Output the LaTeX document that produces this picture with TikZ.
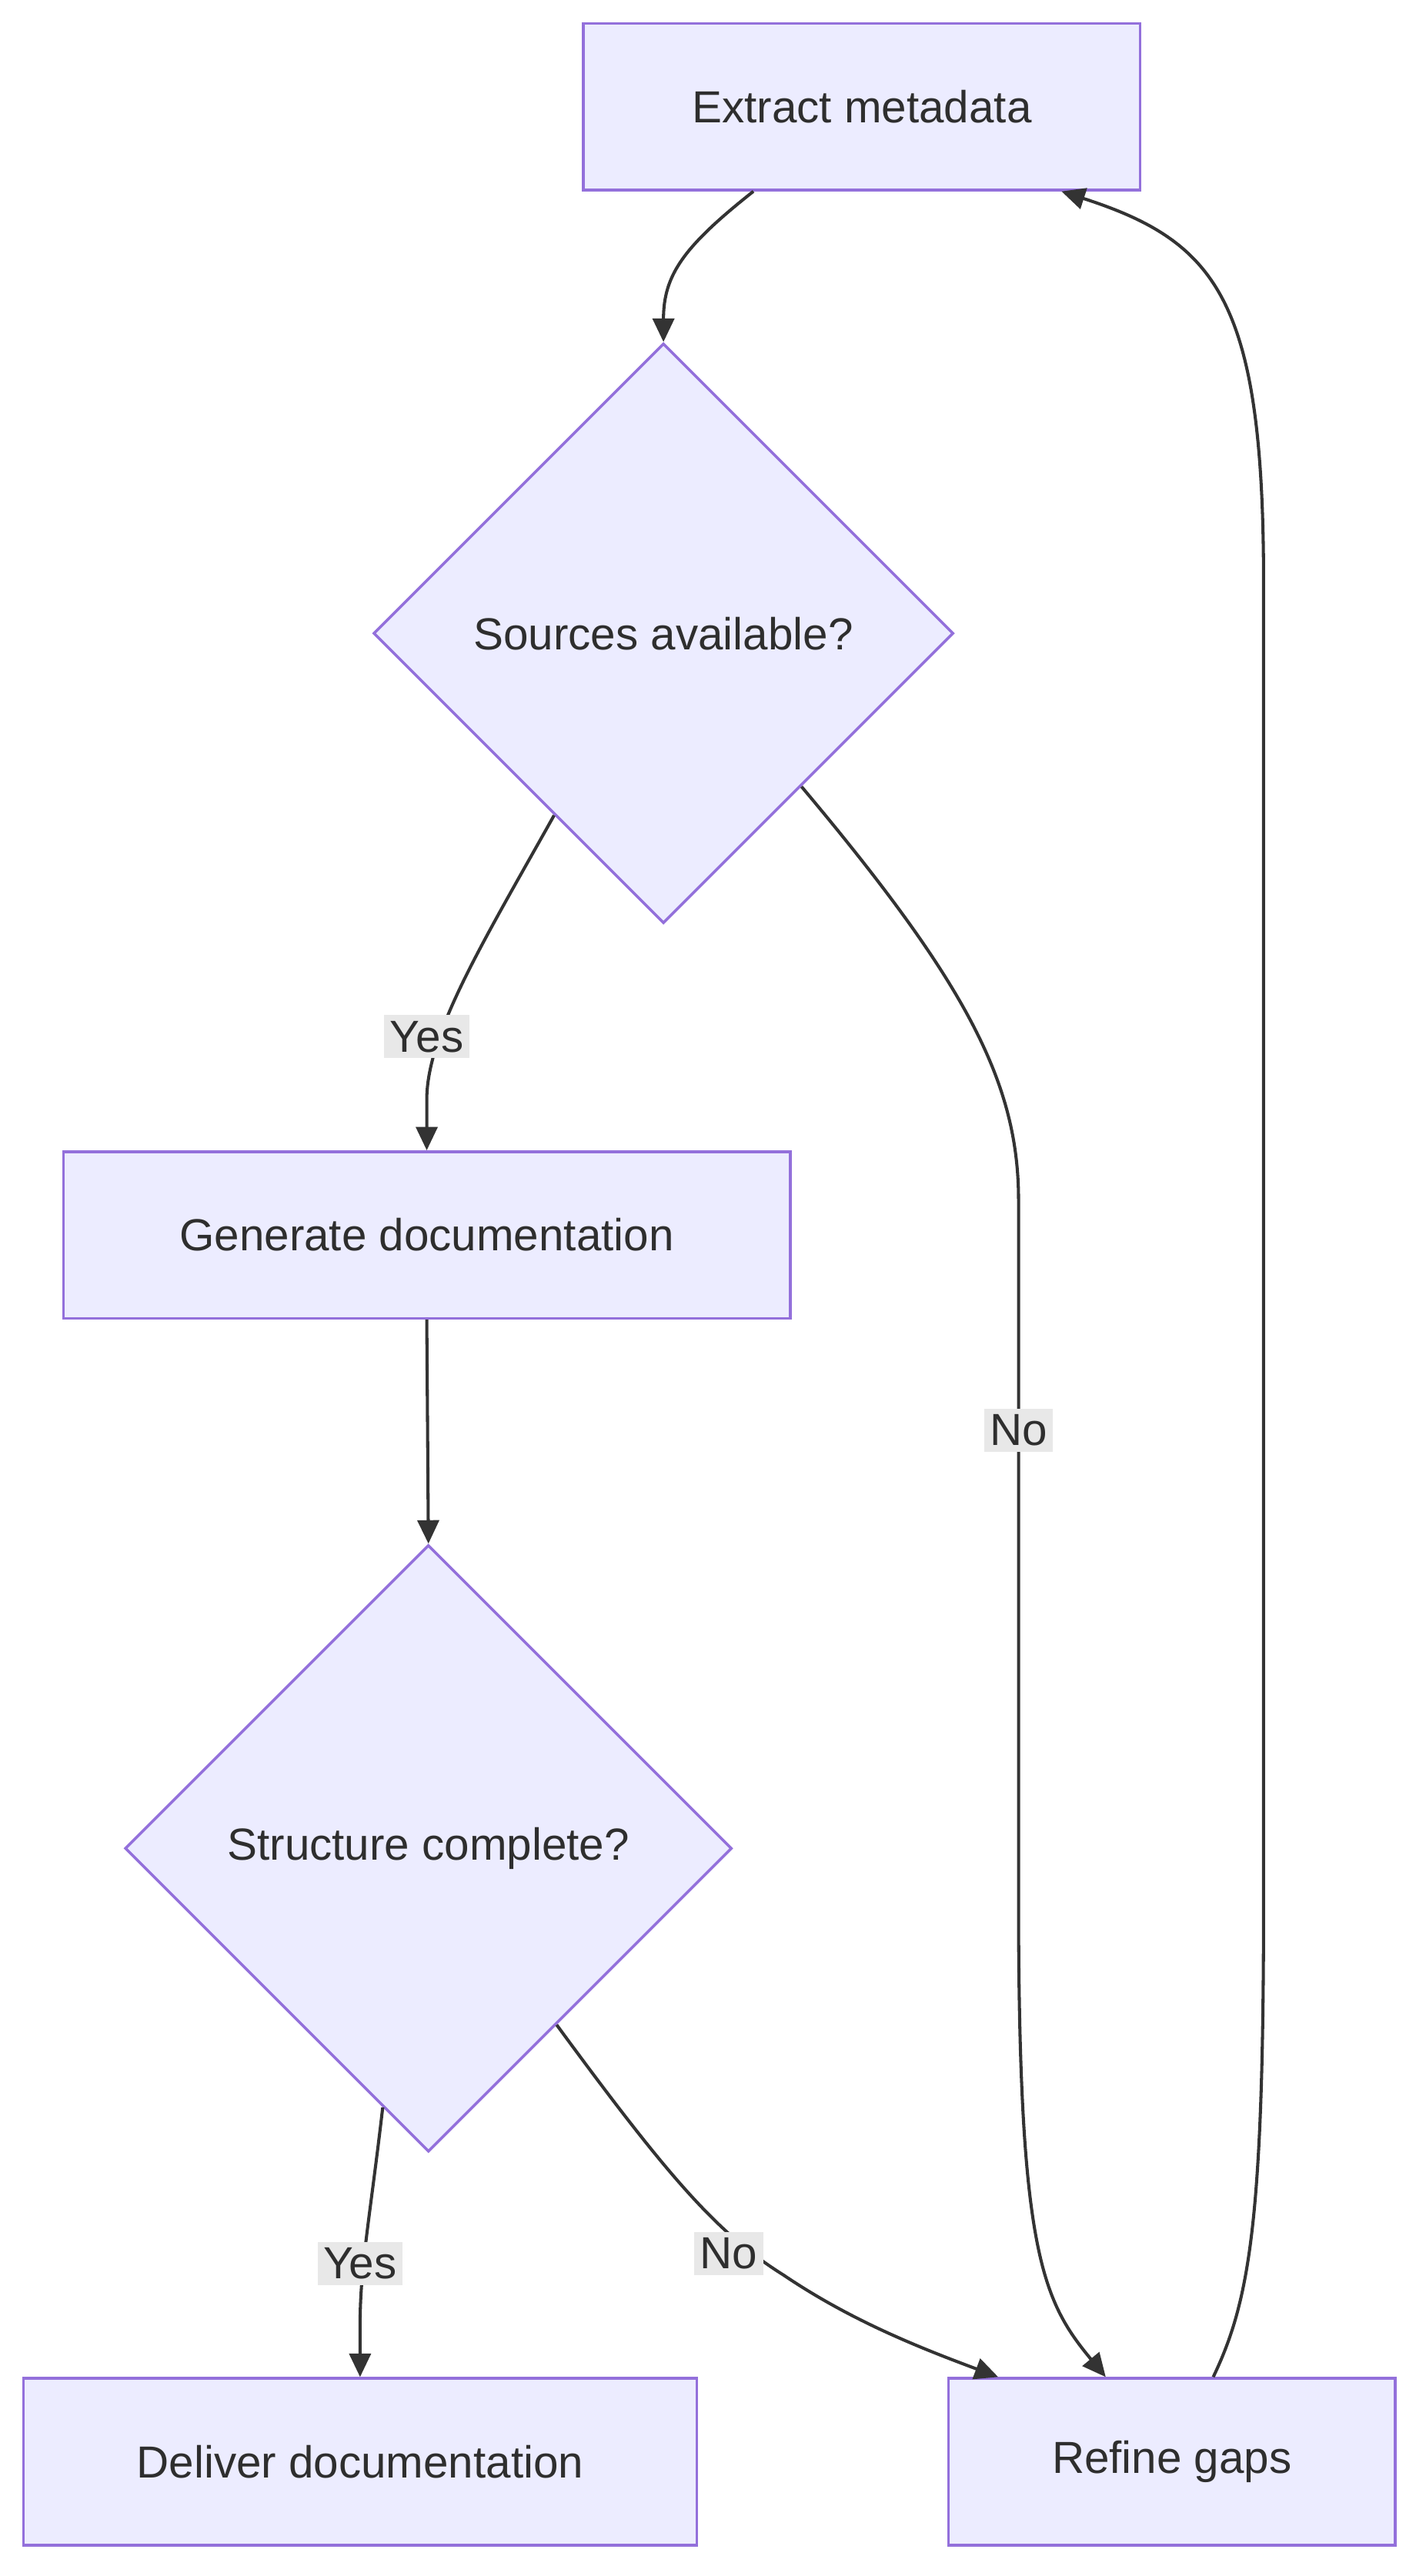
\documentclass[tikz,border=0pt]{standalone}
\usepackage{fontspec}
\setmainfont{Liberation Sans}
\usetikzlibrary{shapes.geometric,arrows.meta}
\definecolor{nfill}{HTML}{ECECFF}
\definecolor{nstroke}{HTML}{9370DB}
\definecolor{ink}{HTML}{333333}
\definecolor{lbl}{HTML}{E8E8E8}
\begin{document}
\begin{tikzpicture}[x=0.03cm,y=-0.03cm,
  every node/.style={font=\fontsize{23}{27}\selectfont, text=ink!90!black},
  box/.style={draw=nstroke, fill=nfill, line width=1.4pt, inner sep=0pt},
  dia/.style={draw=nstroke, fill=nfill, line width=1.4pt, diamond, inner sep=0pt},
  lab/.style={fill=lbl, inner sep=3pt},
  arr/.style={draw=ink, line width=1.6pt, -{Triangle[length=12pt,width=11pt]}}]
\useasboundingbox (0,0) rectangle (855,1545.6);
\node[box, minimum width=10.02cm, minimum height=3cm] (ext) at (517,64) {Extract metadata};
\node[dia, minimum width=10.44cm, minimum height=10.44cm] (src) at (398,380) {Sources available?};
\node[box, minimum width=13.08cm, minimum height=3cm] (gen) at (256,741) {Generate documentation};
\node[dia, minimum width=10.92cm, minimum height=10.92cm] (str) at (257,1109) {Structure complete?};
\node[box, minimum width=12.12cm, minimum height=3cm] (del) at (216,1477) {Deliver documentation};
\node[box, minimum width=8.04cm, minimum height=3cm] (ref) at (703,1477) {Refine gaps};

\path[arr] (ext.218.4) .. controls (410,148) and (398,165) .. (src.north);
\path[arr] (src.239.4) .. controls (290,565) and (256,620) .. (256,660) -- (gen.north);
\path[arr] (src.-48.9) .. controls (580,590) and (611,650) .. (611,720) -- (611,1140) .. controls (611,1350) and (625,1380) .. (ref.128.7);
\path[arr] (gen.south) -- (str.north);
\path[arr] (str.260.6) .. controls (222,1330) and (216,1360) .. (216,1395) -- (del.north);
\path[arr] (str.-54) .. controls (400,1305) and (430,1340) .. (470,1365) .. controls (510,1392) and (550,1408) .. (ref.154.9);
\path[arr] (ref.64.4) .. controls (750,1380) and (758,1330) .. (758,1140) -- (758,350) .. controls (758,180) and (730,145) .. (ext.-23);

\node[lab] (ly1) at (256,622) {Yes};
\node[lab] (ln1) at (611,858) {No};
\node[lab] (ly2) at (216,1358) {Yes};
\node[lab] (ln2) at (437,1352) {No};
\end{tikzpicture}
\end{document}
